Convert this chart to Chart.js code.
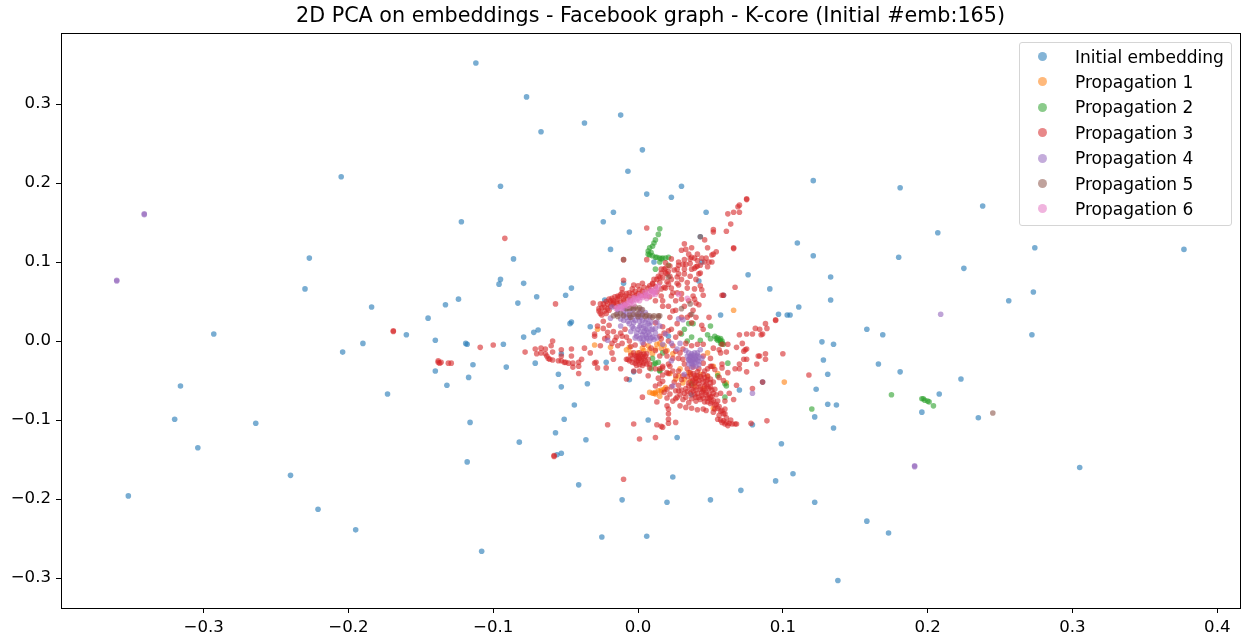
<!DOCTYPE html>
<html lang="en">
<head>
    <meta charset="UTF-8">
    <title>2D PCA on embeddings</title>
    <script src="https://cdn.jsdelivr.net/npm/chart.js"></script>
    <style>
        html, body { margin: 0; padding: 0; background: #fff; overflow: hidden; }
        #wrap { position: relative; width: 1247px; height: 637px; }
        #legend {
            position: absolute; left: 1019px; top: 42px; width: 211px; height: 182px;
            border: 1px solid #d5d5d5; border-radius: 3px; background: rgba(255,255,255,0.8);
            font: 17.05px "DejaVu Sans", sans-serif; color: #000;
        }
        #legend div { position: absolute; left: 55px; white-space: nowrap; line-height: 20px; }
        #legend i { position: absolute; left: -37px; top: 5.5px; width: 9px; height: 9px; border-radius: 50%; }
    </style>
</head>
<body>
<div id="wrap">
    <canvas id="chart" width="1247" height="637"></canvas>
    <div id="legend"></div>
</div>
<script>
const titleText = '2D PCA on embeddings - Facebook graph - K-core (Initial #emb:165)';
const seriesLabels = ['Initial embedding', 'Propagation 1', 'Propagation 2', 'Propagation 3', 'Propagation 4', 'Propagation 5', 'Propagation 6'];
const seriesColors = ['31,119,180', '255,127,14', '44,160,44', '214,39,40', '148,103,189', '140,86,75', '227,119,194'];
const xTicks = [-0.3, -0.2, -0.1, 0, 0.1, 0.2, 0.3, 0.4];
const yTicks = [-0.3, -0.2, -0.1, 0, 0.1, 0.2, 0.3];

// values as [pc1, pc2]
const initialEmbedding = [
[-0.112,0.352],[-0.077,0.309],[-0.067,0.265],[-0.037,0.276],[-0.012,0.286],[0.003,0.242],[-0.007,0.215],[0.006,0.186],[0.023,0.182],[0.030,0.196],
[-0.095,0.196],[-0.205,0.208],[-0.122,0.151],[-0.024,0.151],[-0.017,0.163],[-0.006,0.138],[-0.019,0.116],[0.047,0.163],[0.121,0.203],[0.181,0.194],
[0.238,0.171],[0.110,0.124],[0.121,0.108],[0.180,0.106],[0.207,0.137],[0.274,0.118],[0.377,0.116],[0.225,0.092],[0.133,0.081],[0.133,0.052],
[0.256,0.051],[0.273,0.062],[0.272,0.008],[-0.227,0.105],[-0.230,0.066],[-0.293,0.009],[-0.184,0.043],[-0.160,0.008],[-0.190,-0.003],[-0.204,-0.014],
[-0.316,-0.057],[-0.320,-0.099],[-0.304,-0.135],[-0.264,-0.104],[-0.240,-0.170],[-0.352,-0.196],[-0.221,-0.213],[-0.195,-0.239],[-0.173,-0.067],[-0.145,0.029],
[-0.133,0.046],[-0.124,0.053],[-0.140,0.001],[-0.119,-0.003],[-0.118,-0.004],[-0.093,-0.004],[-0.114,-0.030],[-0.140,-0.038],[-0.132,-0.056],[-0.117,-0.046],
[-0.091,-0.033],[-0.071,-0.028],[-0.116,-0.103],[-0.118,-0.153],[-0.108,-0.266],[-0.082,-0.128],[-0.079,0.005],[-0.072,0.011],[-0.069,0.014],[-0.083,0.048],
[-0.096,0.072],[-0.095,0.078],[-0.086,0.104],[-0.079,0.073],[-0.070,0.056],[-0.050,0.058],[-0.046,0.067],[-0.046,0.024],[-0.047,0.022],[-0.033,0.018],
[-0.053,-0.016],[-0.055,-0.042],[-0.053,-0.058],[-0.035,-0.054],[-0.044,-0.081],[-0.051,-0.099],[-0.057,-0.116],[-0.036,-0.125],[-0.056,-0.144],[-0.053,-0.142],
[-0.041,-0.182],[-0.011,-0.201],[-0.025,-0.248],[0.006,-0.247],[0.020,-0.204],[0.024,-0.172],[0.050,-0.201],[0.071,-0.189],[0.095,-0.177],[0.107,-0.168],
[0.122,-0.204],[0.158,-0.228],[0.173,-0.243],[0.138,-0.303],[0.305,-0.160],[0.196,-0.090],[0.235,-0.097],[0.208,-0.067],[0.223,-0.048],[0.181,-0.039],
[0.166,-0.029],[0.158,0.015],[0.169,0.008],[0.127,-0.001],[0.135,-0.004],[0.128,-0.024],[0.131,-0.042],[0.123,-0.061],[0.131,-0.080],[0.137,-0.081],
[0.122,-0.096],[0.135,-0.110],[0.099,-0.130],[0.111,0.043],[0.105,0.033],[0.076,0.084],[0.091,0.066],[0.097,0.034],[0.103,0.033],[0.057,0.033],
[0.042,0.076],[0.059,0.058],[0.043,0.132],[0.044,0.100],[0.011,0.100],[-0.010,0.073],[-0.023,0.052],[0.021,0.006],[0.086,-0.052],[0.070,-0.062],
[0.079,-0.106],[0.027,-0.122],[0.037,-0.068],[-0.003,-0.039],[-0.006,-0.049],[-0.022,-0.027],[0.007,-0.100]
];
const propagation1 = [
[-0.030,-0.005],[-0.028,0.015],[-0.019,-0.008],[-0.008,-0.011],[-0.006,-0.008],[-0.005,-0.015],[0.000,-0.015],[0.003,-0.009],[0.007,-0.006],[0.010,-0.016],
[0.013,-0.004],[0.015,-0.003],[0.018,-0.006],[0.008,-0.065],[0.010,-0.066],[0.011,-0.066],[0.012,-0.065],[0.014,-0.063],[0.016,-0.062],[0.018,-0.061],
[0.019,-0.059],[0.066,0.039],[0.101,-0.052],[0.015,-0.070],[0.061,-0.053],[0.048,-0.015],[0.052,-0.032],[0.055,-0.041],[0.043,-0.042],[0.036,-0.042],
[0.031,-0.053],[0.045,-0.060],[0.052,-0.085],[0.022,-0.041],[0.029,-0.035],[0.039,-0.057],[0.036,-0.051],[0.026,-0.048],[0.004,-0.012],[0.008,-0.011],
[0.012,-0.010],[0.016,-0.009],[0.020,-0.012],[0.024,-0.016],[0.032,-0.048],[0.040,-0.047],[0.048,-0.045],[0.035,-0.040],[0.028,-0.044],[0.012,-0.067],
[0.016,-0.064]
];
const propagation2 = [
[0.015,0.142],[0.014,0.135],[0.012,0.128],[0.011,0.124],[0.010,0.120],[0.008,0.118],[0.007,0.114],[0.007,0.110],[0.008,0.109],[0.010,0.108],
[0.012,0.106],[0.015,0.105],[0.017,0.105],[0.019,0.105],[0.021,0.106],[0.015,0.100],[0.012,0.091],[0.021,0.096],[0.053,0.006],[0.055,0.004],
[0.055,0.001],[0.057,0.003],[0.057,0.000],[0.058,-0.003],[0.059,-0.004],[0.057,-0.003],[0.050,0.019],[0.048,0.008],[0.050,0.003],[0.043,0.001],
[0.038,0.022],[0.035,0.022],[0.032,0.015],[0.030,0.009],[0.037,0.005],[0.034,0.000],[0.062,-0.028],[0.055,-0.044],[0.060,-0.054],[0.061,-0.057],
[0.060,-0.071],[0.037,-0.054],[0.015,-0.038],[0.017,-0.015],[0.012,-0.028],[0.010,-0.022],[0.015,-0.037],[0.009,-0.035],[0.011,-0.029],[0.014,-0.027],
[0.196,-0.073],[0.197,-0.073],[0.198,-0.075],[0.200,-0.076],[0.201,-0.077],[0.204,-0.082],[0.175,-0.068],[0.120,-0.086],[0.013,0.106],[0.016,0.104],
[0.009,0.112],[0.056,0.002],[0.054,0.003],[0.058,0.000]
];
const propagation3 = [
[-0.092,0.130],[-0.169,0.013],[-0.169,0.012],[-0.057,0.047],[-0.109,-0.008],[-0.100,-0.005],[-0.078,-0.014],[-0.138,-0.025],[-0.138,-0.027],[-0.137,-0.028],
[-0.136,-0.027],[-0.131,-0.028],[-0.129,-0.028],[-0.071,-0.010],[-0.070,-0.016],[-0.067,-0.009],[-0.067,-0.015],[-0.064,-0.010],[-0.064,-0.016],[-0.062,-0.022],
[-0.059,0.000],[-0.060,-0.006],[-0.053,-0.011],[-0.046,-0.010],[-0.059,-0.014],[-0.063,-0.019],[-0.061,-0.023],[-0.059,-0.024],[-0.055,-0.025],[-0.053,-0.025],
[-0.051,-0.027],[-0.050,-0.027],[-0.048,-0.028],[-0.046,-0.019],[-0.053,-0.019],[-0.039,-0.023],[-0.041,-0.027],[-0.045,-0.028],[-0.045,-0.033],[-0.041,-0.032],
[-0.041,-0.041],[-0.030,-0.028],[-0.029,-0.027],[-0.028,-0.034],[-0.022,-0.034],[-0.012,-0.035],[-0.017,-0.023],[-0.008,-0.048],[-0.003,-0.038],[0.001,-0.038],
[0.003,-0.071],[0.013,-0.077],[0.020,-0.082],[0.021,-0.086],[0.021,-0.092],[0.021,-0.099],[0.021,-0.104],[-0.003,-0.105],[-0.021,-0.106],[0.013,-0.106],
[0.016,-0.108],[0.001,-0.124],[0.012,-0.122],[-0.058,-0.146],[-0.058,-0.145],[-0.010,-0.175],[-0.028,0.019],[-0.030,0.009],[-0.030,0.006],[-0.024,0.016],
[-0.024,0.025],[-0.021,0.011],[-0.021,0.005],[-0.015,0.005],[-0.016,0.001],[-0.011,0.006],[-0.023,0.003],[-0.026,0.047],[-0.027,0.041],[-0.026,0.035],
[-0.023,0.043],[-0.023,0.038],[-0.021,0.047],[-0.021,0.041],[-0.019,0.051],[-0.019,0.044],[-0.017,0.048],[-0.014,0.053],[-0.014,0.047],[-0.010,0.051],
[-0.007,0.053],[-0.003,0.056],[0.000,0.060],[0.003,0.063],[0.007,0.067],[0.010,0.073],[0.013,0.078],[0.016,0.086],[0.018,0.091],[0.005,0.057],
[0.008,0.056],[0.012,0.051],[-0.009,0.057],[-0.002,0.063],[0.006,0.143],[0.006,0.103],[-0.010,0.077],[-0.003,0.071],[0.000,0.070],[0.003,0.073],
[0.010,0.072],[-0.031,0.048],[-0.011,0.066],[-0.011,0.061],[-0.004,0.066],[-0.006,0.061],[-0.014,0.057],[-0.017,0.051],[0.019,0.099],[0.019,0.086],
[0.020,0.085],[0.015,0.080],[0.075,0.180],[0.075,0.179],[0.070,0.172],[0.069,0.170],[0.066,0.163],[0.062,0.161],[0.070,0.163],[0.064,0.148],
[0.061,0.139],[0.052,0.141],[0.052,0.138],[0.046,0.128],[0.032,0.123],[0.048,0.118],[0.066,0.118],[0.066,0.117],[0.033,0.116],[0.030,0.115],
[0.037,0.118],[0.035,0.110],[0.041,0.110],[0.044,0.105],[0.047,0.105],[0.051,0.109],[0.054,0.113],[0.052,0.110],[0.051,0.100],[0.049,0.100],
[0.048,0.094],[0.032,0.103],[0.028,0.100],[0.028,0.096],[0.036,0.104],[0.039,0.105],[0.031,0.097],[0.032,0.091],[0.027,0.091],[0.039,0.092],
[0.040,0.094],[0.041,0.095],[0.037,0.091],[0.042,0.085],[0.023,0.104],[0.022,0.095],[0.032,0.085],[0.028,0.085],[0.027,0.073],[0.028,0.071],
[0.034,0.067],[0.039,0.066],[0.043,0.070],[0.044,0.065],[0.045,0.058],[0.067,0.068],[0.058,0.058],[0.059,0.058],[0.023,0.067],[0.024,0.061],
[0.027,0.061],[0.019,0.067],[0.023,0.057],[0.030,0.060],[0.038,0.057],[0.039,0.053],[0.026,0.051],[0.030,0.053],[0.035,0.051],[0.032,0.044],
[0.042,0.046],[0.038,0.039],[0.026,0.039],[0.022,0.030],[0.034,0.030],[0.049,0.030],[0.017,0.051],[0.016,0.057],[0.017,0.044],[0.021,0.044],
[0.024,0.038],[0.095,0.027],[0.095,0.026],[0.088,0.022],[0.089,0.016],[0.081,0.016],[0.084,0.015],[0.086,0.009],[0.085,0.008],[0.079,0.009],
[0.075,0.009],[0.070,0.008],[0.072,-0.003],[0.068,-0.008],[0.074,-0.011],[0.075,-0.010],[0.073,-0.013],[0.083,-0.019],[0.084,-0.019],[0.088,-0.016],
[0.088,-0.023],[0.082,-0.029],[0.100,-0.016],[0.118,-0.043],[0.075,-0.023],[0.073,-0.023],[0.070,-0.029],[0.067,-0.035],[0.070,-0.035],[0.075,-0.039],
[0.068,-0.056],[0.079,-0.060],[0.086,-0.052],[0.078,-0.104],[0.089,-0.101],[0.044,0.020],[0.045,0.015],[0.052,-0.009],[0.056,-0.011],[0.057,-0.015],
[0.061,-0.014],[0.058,-0.004],[0.062,-0.004],[0.058,-0.029],[0.058,-0.034],[0.055,-0.099],[0.057,-0.100],[0.059,-0.101],[0.061,-0.103],[0.063,-0.104],
[0.065,-0.105],[0.067,-0.105],[0.068,-0.105],[0.045,-0.063],[0.047,-0.068],[0.049,-0.073],[0.051,-0.077],[0.053,-0.081],[0.055,-0.085],[0.057,-0.089],
[0.059,-0.092],[0.051,-0.070],[0.048,-0.077],[0.055,-0.076],[0.038,-0.041],[0.041,-0.039],[0.045,-0.042],[0.048,-0.044],[0.037,-0.047],[0.040,-0.047],
[0.044,-0.048],[0.047,-0.051],[0.050,-0.053],[0.035,-0.053],[0.039,-0.053],[0.042,-0.054],[0.046,-0.057],[0.049,-0.060],[0.033,-0.060],[0.037,-0.061],
[0.040,-0.062],[0.044,-0.065],[0.039,-0.068],[0.042,-0.071],[0.032,-0.066],[0.053,-0.061],[0.057,-0.066],[0.017,-0.051],[0.020,-0.072],[0.026,-0.103],
[0.026,-0.073],[0.029,-0.082],[0.033,-0.084],[0.037,-0.085],[0.041,-0.087],[0.045,-0.086],[0.040,-0.076],[0.026,-0.063],[0.028,-0.063],[0.030,-0.062],
[0.020,-0.061],[0.027,-0.071],[0.024,-0.076],[0.017,-0.109],[0.027,0.022],[0.037,0.023],[0.041,-0.004],[0.045,-0.004],[0.037,-0.006],[0.050,-0.022],
[0.026,-0.013],[0.024,-0.022],[0.017,-0.032],[0.022,-0.032],[0.031,-0.023],[0.032,-0.029],[0.028,-0.038],[0.045,-0.019],[0.045,-0.028],[0.050,-0.032],
[0.051,-0.032],[0.046,-0.038],[0.021,0.000],[0.024,-0.006],[0.019,-0.013],[0.015,-0.019],[0.021,0.013],[0.015,0.006],[0.012,0.023],[0.023,0.015],
[0.029,-0.015],[0.021,-0.041],[0.015,-0.054],[0.007,-0.044],[-0.008,-0.023],[-0.007,-0.023],[-0.006,-0.025],[-0.003,-0.015],[-0.001,-0.020],[0.001,-0.015],
[0.000,-0.025],[0.003,-0.020],[0.004,-0.028],[0.006,-0.016],[0.007,-0.023],[0.008,-0.029],[0.001,-0.030],[-0.002,-0.028],[0.008,-0.034],[0.012,-0.035],
[0.017,-0.034],[0.015,-0.035],[0.020,-0.019],[0.021,-0.029],[-0.009,0.015],[-0.014,-0.006],[-0.018,-0.003],[-0.026,-0.006],[-0.037,-0.009],[-0.033,-0.015],
[-0.018,-0.015],[-0.010,0.103],
[-0.027,0.038],[-0.025,0.042],[-0.025,0.033],[-0.024,0.047],[-0.022,0.035],[-0.022,0.050],[-0.020,0.039],[-0.020,0.053],[-0.018,0.047],[-0.018,0.054],
[-0.016,0.044],[-0.016,0.056],[-0.015,0.050],[-0.013,0.056],[-0.012,0.049],[-0.012,0.059],[-0.010,0.054],[-0.009,0.047],[-0.008,0.060],[-0.006,0.056],
[-0.005,0.052],[-0.004,0.060],[-0.001,0.058],[0.001,0.065],[0.002,0.058],[0.004,0.068],[0.005,0.062],[0.008,0.070],[0.009,0.064],[0.011,0.078],
[0.012,0.069],[0.014,0.082],[0.015,0.074],[0.016,0.091],[0.017,0.080],[0.019,0.092],[0.020,0.075],[0.021,0.088],[0.022,0.082],[0.018,0.068],
[0.021,0.072],[0.016,0.066],[0.013,0.062],
[-0.005,-0.018],[-0.004,-0.022],[-0.002,-0.018],[-0.001,-0.025],[0.000,-0.019],[0.001,-0.022],[0.002,-0.027],[0.002,-0.017],[0.004,-0.022],[0.004,-0.016],
[0.005,-0.025],[0.005,-0.019],[0.006,-0.029],[0.003,-0.031],[-0.001,-0.031],[-0.004,-0.027],[0.002,-0.024],[0.000,-0.022],
[-0.020,0.020],[-0.017,0.012],[-0.012,0.010],[-0.008,0.005],[-0.006,0.000],[-0.011,-0.003],[-0.005,-0.007],[-0.002,-0.005],[0.004,-0.004],[0.009,-0.009],
[0.012,-0.012],[0.016,0.003],[0.018,0.010],[0.017,0.018],[0.026,0.005],[0.029,0.010],[0.033,-0.003],[0.028,-0.022],[0.031,-0.010],[0.020,-0.040],
[0.017,-0.043],[0.014,-0.047],[0.024,-0.038],[0.026,-0.044],
[0.034,-0.045],[0.036,-0.040],[0.039,-0.044],[0.041,-0.044],[0.043,-0.045],[0.046,-0.046],[0.048,-0.049],[0.050,-0.048],[0.052,-0.052],[0.035,-0.057],
[0.037,-0.056],[0.038,-0.050],[0.040,-0.051],[0.042,-0.050],[0.043,-0.058],[0.045,-0.052],[0.047,-0.055],[0.048,-0.058],[0.050,-0.058],[0.051,-0.062],
[0.034,-0.064],[0.036,-0.066],[0.038,-0.063],[0.040,-0.058],[0.041,-0.066],[0.043,-0.061],[0.044,-0.069],[0.046,-0.062],[0.047,-0.065],[0.049,-0.067],
[0.050,-0.071],[0.052,-0.066],[0.054,-0.068],[0.040,-0.071],[0.043,-0.074],[0.045,-0.072],[0.046,-0.077],[0.048,-0.072],[0.050,-0.079],[0.052,-0.075],
[0.053,-0.086],[0.054,-0.080],[0.056,-0.083],[0.058,-0.088],[0.060,-0.092],[0.061,-0.097],[0.060,-0.086],[0.056,-0.094],[0.052,-0.090],[0.047,-0.088],
[0.064,-0.100],[0.058,-0.103],[0.060,-0.105],[0.062,-0.107],[0.029,-0.068],[0.031,-0.074],[0.033,-0.071],[0.035,-0.078],[0.037,-0.073],[0.030,-0.049],
[0.028,-0.056],[0.031,-0.044],[0.025,-0.052],[0.023,-0.058],[0.022,-0.067],[0.018,-0.065],[0.012,-0.057],[0.056,-0.046],[0.059,-0.050],[0.062,-0.040],
[0.053,-0.036],[0.048,-0.035],[0.042,-0.035],[0.038,-0.033],[0.034,-0.035],[0.063,-0.066],[0.060,-0.076],[0.066,-0.074],
[0.033,0.097],[0.036,0.098],[0.037,0.106],[0.041,0.102],[0.043,0.096],[0.046,0.100],[0.043,0.086],[0.036,0.082],[0.030,0.078],[0.034,0.074],
[0.040,0.078],[0.025,0.090],[0.023,0.078],[0.027,0.081],[0.040,0.048],[0.036,0.033],[0.040,0.030],[0.030,0.030]
];
const propagation4 = [
[-0.360,0.077],[-0.341,0.161],[0.191,-0.158],[0.209,0.034],[0.028,0.028],[0.031,0.027],[0.015,0.019],[0.019,0.009],[0.017,-0.004],[0.023,-0.003],
[0.029,-0.003],[0.027,-0.010],[0.035,-0.023],[0.038,-0.023],[0.041,-0.025],[0.037,-0.028],[0.040,-0.032],[0.036,-0.019],[0.039,-0.015],[0.041,-0.015],
[0.035,-0.015],[0.037,-0.033],[0.023,-0.025],[0.032,-0.042],[0.024,-0.057],[0.079,-0.066],[-0.018,0.043],[-0.019,0.029],[-0.021,0.001],[-0.012,0.019],
[0.013,0.024],[-0.012,0.044],[-0.009,0.041],[-0.006,0.038],[-0.014,0.035],[-0.010,0.033],[-0.006,0.030],[-0.001,0.033],[0.003,0.034],[-0.007,0.025],
[-0.003,0.023],[0.001,0.025],[0.006,0.028],[-0.004,0.018],[0.000,0.015],[0.004,0.018],[0.008,0.020],[-0.001,0.010],[0.003,0.008],[0.007,0.011],
[0.001,0.003],[0.006,0.003],[0.010,0.005],[0.010,0.015],
[-0.010,0.026],[-0.004,0.028],[0.002,0.030],[0.008,0.030],[-0.005,0.012],[0.002,0.020],[0.006,0.014],[0.004,0.002],[-0.002,0.004],[0.008,0.008],
[0.012,0.010],[0.000,0.030],[-0.008,0.034],[-0.003,0.040],[0.002,0.040],[0.006,0.005],[0.003,-0.002],[0.008,0.000],[0.002,0.012],[0.005,0.024],
[0.034,-0.019],[0.037,-0.016],[0.036,-0.025],[0.039,-0.027],[0.042,-0.020],[0.040,-0.020],[0.038,-0.018],[0.035,-0.029],[0.042,-0.030],[0.033,-0.012],
[0.043,-0.011],
[-0.012,0.028],[-0.008,0.030],[-0.006,0.022],[-0.002,0.026],[0.003,0.026],[0.007,0.022],[-0.003,0.016],[0.001,0.018],[0.005,0.016],[0.009,0.014],
[-0.001,0.006],[0.002,0.004],[0.005,0.008],[0.009,0.004],[0.013,0.004],[0.011,0.002],[-0.004,0.034],[0.001,0.036],[0.005,0.036],[-0.010,0.038],
[-0.014,0.040],[0.009,0.024],[0.012,0.016],[0.004,0.012],[0.036,-0.021],[0.038,-0.026],[0.040,-0.023],[0.042,-0.026],[0.037,-0.020],[0.039,-0.022],
[0.035,-0.024],[0.041,-0.018],[0.038,-0.030],[0.044,-0.022],[-0.341,0.160],[-0.360,0.076],[0.191,-0.159]
];
const propagation5 = [
[-0.010,0.103],[0.245,-0.091],[-0.017,0.032],[-0.015,0.034],[-0.012,0.035],[-0.008,0.041],[-0.005,0.042],[-0.002,0.043],[0.001,0.042],[-0.006,0.033],
[-0.003,0.034],[0.000,0.034],[0.003,0.033],[0.006,0.033],[0.008,0.032],[0.011,0.032],[0.014,0.032],[0.015,0.032],[0.037,0.034],[0.043,0.132],
[0.030,0.041],[0.021,0.081],[0.036,0.047],[-0.014,0.031],[-0.010,0.032],[-0.005,0.030],[0.000,0.031],[0.005,0.031],[0.010,0.030],[0.014,0.030],
[-0.006,0.041],[-0.003,0.041],[0.000,0.040],[0.003,0.040]
];
const propagation6 = [
[-0.015,0.041],[-0.012,0.043],[-0.010,0.046],[-0.008,0.047],[-0.006,0.049],[-0.004,0.051],[-0.002,0.053],[0.000,0.054],[0.002,0.056],[0.004,0.058],
[0.006,0.059],[0.008,0.062],[0.010,0.063],[0.012,0.066],[0.014,0.070],[0.012,0.059],[-0.011,0.041],[-0.007,0.044],[-0.003,0.047],[0.001,0.051],
[0.006,0.054],[0.010,0.059],[0.028,0.059],[0.034,0.054],[-0.014,0.043],[-0.009,0.045],[-0.005,0.048],[-0.001,0.052],[0.003,0.055],[0.007,0.057],
[0.011,0.061],[0.013,0.064],[0.009,0.065],[0.005,0.062],[0.001,0.058],[-0.003,0.055],[-0.006,0.052]
];
const seriesData = [initialEmbedding, propagation1, propagation2, propagation3, propagation4, propagation5, propagation6];

// legend sits inside the plot, top right, like matplotlib
const legendEl = document.getElementById('legend');
seriesLabels.forEach((label, i) => {
    const row = document.createElement('div');
    row.style.top = (3.5 + i * 25.4) + 'px';
    row.textContent = label;
    const dot = document.createElement('i');
    dot.style.background = 'rgba(' + seriesColors[i] + ',0.55)';
    row.appendChild(dot);
    legendEl.appendChild(row);
});

const tickFont = { family: '"DejaVu Sans"', size: 16.6 };
const tickLabel = v => v === 0 ? '0.0' : v.toFixed(1).replace('-', '\u2212');

// closes the axes box on all four sides
const frame = {
    id: 'frame',
    afterDraw(chart) {
        const a = chart.chartArea, ctx = chart.ctx;
        ctx.save();
        ctx.strokeStyle = '#000';
        ctx.lineWidth = 1;
        ctx.strokeRect(a.left + 0.5, a.top + 0.5, a.right - a.left, a.bottom - a.top);
        ctx.restore();
    }
};

new Chart(document.getElementById('chart'), {
    type: 'scatter',
    data: {
        datasets: seriesData.map((pts, i) => ({
            label: seriesLabels[i],
            data: pts.map(p => ({ x: p[0], y: p[1] })),
            order: seriesData.length - i,
            backgroundColor: 'rgba(' + seriesColors[i] + ',0.6)',
            borderWidth: 0,
            pointRadius: 2.8,
            clip: true
        }))
    },
    options: {
        responsive: false,
        animation: false,
        layout: { padding: { left: 0, right: 7, top: 0, bottom: 0 } },
        plugins: {
            legend: { display: false },
            tooltip: { enabled: false },
            title: {
                display: true,
                fullSize: false,
                text: titleText,
                color: '#000',
                font: { family: '"DejaVu Sans"', size: 20.7, weight: 'normal' },
                padding: { top: 4.16, bottom: 4 }
            }
        },
        scales: {
            x: {
                type: 'linear',
                min: -0.3985,
                max: 0.4157,
                afterFit(s) { s.height = 29; },
                afterBuildTicks(s) { s.ticks = xTicks.map(v => ({ value: v })); },
                grid: { drawOnChartArea: false, color: '#000', tickLength: 5, tickWidth: 1 },
                border: { color: '#000' },
                ticks: { color: '#000', font: tickFont, padding: 5, maxRotation: 0, callback: tickLabel }
            },
            y: {
                type: 'linear',
                min: -0.3379,
                max: 0.3899,
                afterFit(s) { s.width = 61; },
                afterBuildTicks(s) { s.ticks = yTicks.map(v => ({ value: v })); },
                grid: { drawOnChartArea: false, color: '#000', tickLength: 5, tickWidth: 1 },
                border: { color: '#000' },
                ticks: { color: '#000', font: tickFont, padding: 5, callback: tickLabel }
            }
        }
    },
    plugins: [frame]
});
</script>
</body>
</html>
